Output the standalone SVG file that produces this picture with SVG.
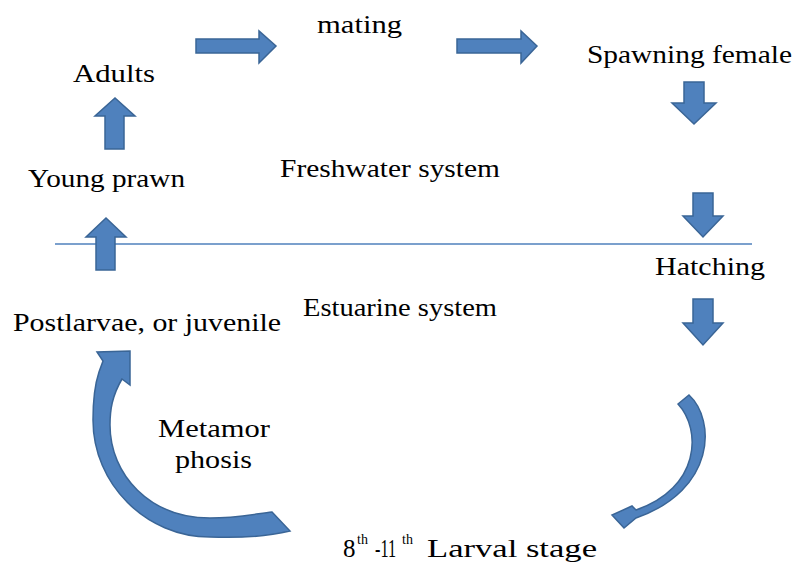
<svg xmlns="http://www.w3.org/2000/svg" width="798" height="569" viewBox="0 0 798 569">
<style>
.a{fill:#4F81BD;stroke:#3A6596;stroke-width:1.5;stroke-linejoin:miter}
</style>
<rect width="798" height="569" fill="#fff"/>
<g id="divider"><line x1="55" y1="244" x2="752" y2="244" stroke="#4F81BD" stroke-width="1.5"/></g>
<g id="connectors">
<path class="a" d="M196 39 H259 V31 L276 46 L259 63 V53 H196 Z"/>
<path class="a" d="M457 39 H521 V31 L537 46 L521 63 V53 H457 Z"/>
<path class="a" d="M684 82 H704 V103 H716 L694 124 L672 103 H684 Z"/>
<path class="a" d="M693 193 H713 V216 H723 L703 237 L683 216 H693 Z"/>
<path class="a" d="M693 299 H713 V323 H723 L703 345 L683 323 H693 Z"/>
<path class="a" d="M105 149 V116 H95 L115 98 L135 116 H124 V149 Z"/>
<path class="a" d="M96 270 V237 H86 L106 218 L126 237 H115 V270 Z"/>
<path class="a" d="M678 404 L689 395 C716 420 716 490 636 518 L624 528 L612 515 L632 506 L636 510 C700 488 702 430 678 404 Z"/>
<path class="a" d="M272 512 L290 531 C265 537 235 538 210 537 C146 537 93 484 93 420 C93 398 95 384 99 372 L103 361 L97 352 L130 351 L130 385 L122 379 C112 396 110 410 110 425 C110 475 150 518 210 518 C235 518 255 514 272 512 Z"/>
</g>
<g font-family="Liberation Serif, DejaVu Serif, serif" font-size="25" fill="#000">
<g id="mating"><text x="317" y="33" textLength="85" lengthAdjust="spacingAndGlyphs">mating</text></g>
<g id="adults"><text x="73" y="82" textLength="82" lengthAdjust="spacingAndGlyphs">Adults</text></g>
<g id="spawning"><text x="587" y="63" textLength="205" lengthAdjust="spacingAndGlyphs">Spawning female</text></g>
<g id="young"><text x="28" y="187" textLength="157" lengthAdjust="spacingAndGlyphs">Young prawn</text></g>
<g id="freshwater"><text x="280" y="177" textLength="220" lengthAdjust="spacingAndGlyphs">Freshwater system</text></g>
<g id="hatching"><text x="655" y="275" textLength="110" lengthAdjust="spacingAndGlyphs">Hatching</text></g>
<g id="estuarine"><text x="303" y="316" textLength="194" lengthAdjust="spacingAndGlyphs">Estuarine system</text></g>
<g id="postlarvae"><text x="13" y="331" textLength="268" lengthAdjust="spacingAndGlyphs">Postlarvae, or juvenile</text></g>
<g id="metamorphosis"><text x="158" y="437" textLength="112" lengthAdjust="spacingAndGlyphs">Metamor</text><text x="175" y="468" textLength="77" lengthAdjust="spacingAndGlyphs">phosis</text></g>
<g id="larval"><text x="343" y="557">8<tspan x="357" y="544" font-size="14">th</tspan><tspan x="375" y="557" textLength="21" lengthAdjust="spacingAndGlyphs">-11</tspan><tspan x="402" y="544" font-size="14">th</tspan><tspan x="427" y="557" textLength="170" lengthAdjust="spacingAndGlyphs">Larval stage</tspan></text></g>
</g>
</svg>
